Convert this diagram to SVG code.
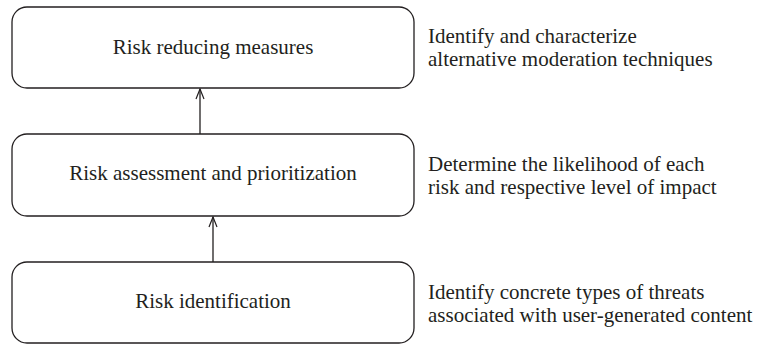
<svg xmlns="http://www.w3.org/2000/svg" width="758" height="345" viewBox="0 0 758 345">
<defs>
<style>
.box{fill:#fff;stroke:#231f20;stroke-width:1.3}
.lbl{font-family:'Liberation Serif','DejaVu Serif',serif;font-size:21px;fill:#231f20;text-anchor:middle}
.desc{font-family:'Liberation Serif','DejaVu Serif',serif;font-size:21px;fill:#231f20}
.conn{stroke:#231f20;stroke-width:1.3;fill:none}
</style>
<marker id="arr" viewBox="0 0 12 10" refX="11" refY="5" markerWidth="12" markerHeight="10" markerUnits="userSpaceOnUse" orient="auto">
<path d="M1,1 L11,5 L1,9" fill="none" stroke="#231f20" stroke-width="1.2"/>
</marker>
</defs>
<rect width="758" height="345" fill="#fff"/>
<g id="node-reduce">
<rect class="box" x="12" y="7" width="402" height="81" rx="15"/>
<text class="lbl" x="213" y="54">Risk reducing measures</text>
</g>
<g id="node-assess">
<rect class="box" x="12" y="134" width="402" height="82" rx="15"/>
<text class="lbl" x="213" y="180">Risk assessment and prioritization</text>
</g>
<g id="node-ident">
<rect class="box" x="12" y="262" width="402" height="81" rx="15"/>
<text class="lbl" x="213" y="308">Risk identification</text>
</g>
<g id="desc-reduce">
<text class="desc" x="428" y="43">Identify and characterize</text>
<text class="desc" x="428" y="66">alternative moderation techniques</text>
</g>
<g id="desc-assess">
<text class="desc" x="428" y="171">Determine the likelihood of each</text>
<text class="desc" x="428" y="194">risk and respective level of impact</text>
</g>
<g id="desc-ident">
<text class="desc" x="428" y="299">Identify concrete types of threats</text>
<text class="desc" x="428" y="322">associated with user-generated content</text>
</g>
<g id="connectors">
<line class="conn" x1="200" y1="134" x2="200" y2="89" marker-end="url(#arr)"/>
<line class="conn" x1="213" y1="262" x2="213" y2="217" marker-end="url(#arr)"/>
</g>
</svg>
